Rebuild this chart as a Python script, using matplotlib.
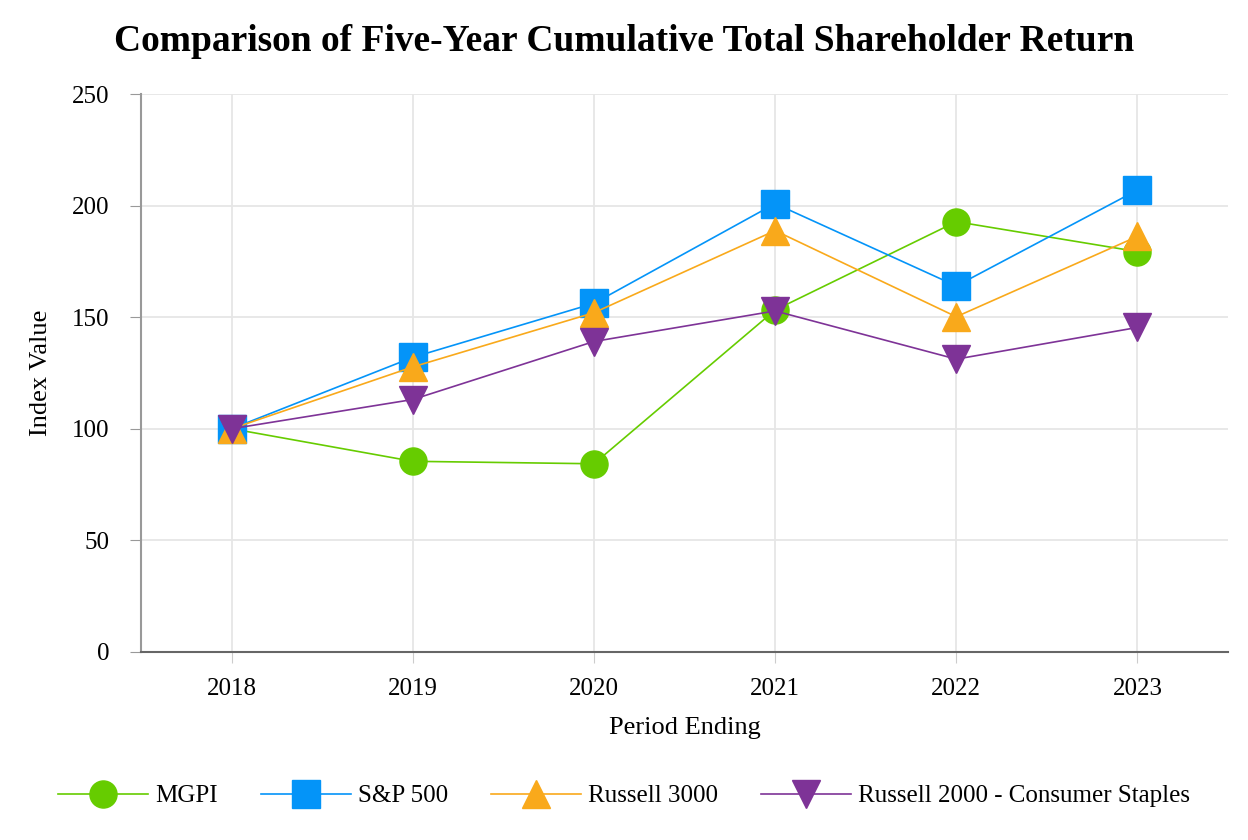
import matplotlib
matplotlib.use("Agg")
import matplotlib.pyplot as plt

years = [2018, 2019, 2020, 2021, 2022, 2023]
mgpi = [100, 85.4, 84.3, 153.2, 192.8, 179.4]
sp500 = [100, 132.0, 156.2, 200.9, 164.0, 207.0]
russell3000 = [100, 127.7, 152.0, 188.8, 150.2, 186.2]
russell2000_cs = [100, 113.1, 139.1, 152.8, 131.2, 145.4]

plt.rcParams['font.family'] = ['Liberation Serif', 'DejaVu Serif']

fig = plt.figure(figsize=(12.48, 8.4), dpi=100)
ax = fig.add_axes([0.113, 0.224, 0.871, 0.664])

ms = 19.5
lw = 1.2
ax.plot(years, mgpi, color='#66CC00', marker='o', ms=ms, lw=lw, label='MGPI')
ax.plot(years, sp500, color='#0494F8', marker='s', ms=ms, lw=lw, label='S&P 500')
ax.plot(years, russell3000, color='#F9A91B', marker='^', ms=ms, lw=lw, label='Russell 3000')
ax.plot(years, russell2000_cs, color='#7E3397', marker='v', ms=ms, lw=lw,
        label='Russell 2000 - Consumer Staples')

ax.set_xlim(2017.5, 2023.5)
ax.set_ylim(0, 250)
ax.set_xticks(years)
ax.set_yticks([0, 50, 100, 150, 200, 250])
ax.grid(True, color='#e6e6e6', lw=1.3)
ax.set_axisbelow(True)

for s in ['top', 'right']:
    ax.spines[s].set_visible(False)
ax.spines['left'].set_color('#999999')
ax.spines['left'].set_linewidth(1.5)
ax.spines['bottom'].set_color('#666666')
ax.spines['bottom'].set_linewidth(1.5)
ax.tick_params(axis='y', length=8, color='#999999', labelsize=18, pad=15)
ax.tick_params(axis='x', length=8, color='#cccccc', labelsize=18, pad=11)

ax.set_xlabel('Period Ending', fontsize=19, labelpad=12)
ax.set_ylabel('Index Value', fontsize=19, labelpad=14)
fig.suptitle('Comparison of Five-Year Cumulative Total Shareholder Return',
             fontsize=27, fontweight='bold', y=0.972)

fig.legend(loc='lower center', ncol=4, frameon=False, fontsize=18,
           bbox_to_anchor=(0.5, 0.012), handlelength=3.6, columnspacing=1.7,
           handletextpad=0.3)

fig.savefig('out.png', dpi=100)
